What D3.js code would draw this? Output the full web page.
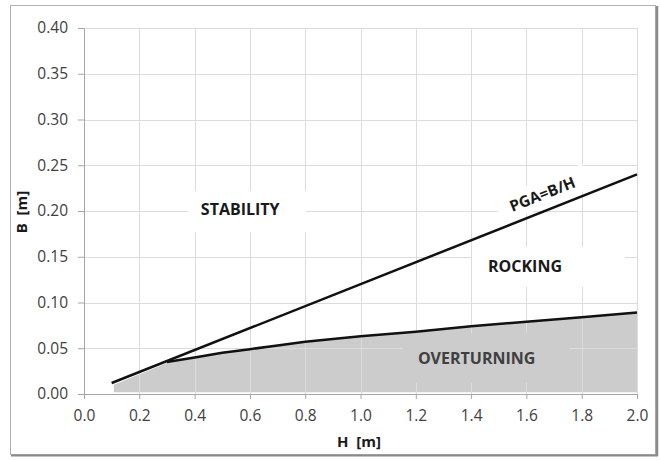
<!DOCTYPE html>
<html>
<head>
<meta charset="utf-8">
<script src="https://cdn.jsdelivr.net/npm/d3@7"></script>
<style>
  body { margin: 0; background: #fff; }
  svg { display: block; }
</style>
</head>
<body>
<div id="chart"></div>
<script>
// boundary PGA = B/H
const pgaH = [0.1, 2.0];
const pgaB = [0.012, 0.24];

// overturning limit curve
const overH = [0.3, 0.4, 0.5, 0.6, 0.7, 0.8, 0.9, 1.0, 1.2, 1.4, 1.6, 1.8, 2.0];
const overB = [0.035, 0.040, 0.045, 0.049, 0.053, 0.057, 0.060, 0.063, 0.068, 0.074, 0.079, 0.084, 0.089];

// shaded region (left part follows PGA line, then the curve)
const fillH = [0.108, 0.3];
const fillB = [0.010, 0.034];
const fillBase = 0.002;

const xTicks = [0, 0.2, 0.4, 0.6, 0.8, 1.0, 1.2, 1.4, 1.6, 1.8, 2.0];
const yTicks = [0, 0.05, 0.10, 0.15, 0.20, 0.25, 0.30, 0.35, 0.40];

const regionNames = ["STABILITY", "ROCKING", "OVERTURNING"];
const regionH = [0.565, 1.595, 1.42];
const regionB = [0.202, 0.14, 0.039];

const W = 660, H = 461;
const x = d3.scaleLinear().domain([0, 2]).range([84, 637]);
const y = d3.scaleLinear().domain([0, 0.4]).range([394, 28]);

// label boxes hiding the grid: [dx, dy, w, h] relative to text centre, fill
const boxes = [
  {box: [-52, -18, 118, 41], bg: "#fff", color: "#1a1a1a"},
  {box: [-53, -19, 153, 40], bg: "#fff", color: "#1a1a1a"},
  {box: [-74, -25, 167, 49], bg: "#cccccc", color: "#404040"}
];

const svg = d3.select("#chart").append("svg")
  .attr("width", W).attr("height", H)
  .style("font-family", "'Open Sans', sans-serif");

// frame
svg.append("rect").attr("x", 10.5).attr("y", 5.5).attr("width", 645).attr("height", 449)
  .attr("fill", "#fff").attr("stroke", "#b0b0b0");
svg.append("line").attr("x1", 657).attr("x2", 657).attr("y1", 6).attr("y2", 456)
  .attr("stroke", "#8a8a8a").attr("stroke-width", 2.5);
svg.append("line").attr("x1", 11).attr("x2", 658).attr("y1", 455.5).attr("y2", 455.5)
  .attr("stroke", "#8a8a8a").attr("stroke-width", 2);

// shaded area
const area = [];
fillH.forEach((h, i) => area.push([h, fillB[i]]));
overH.forEach((h, i) => area.push([h, overB[i]]));
area.push([overH[overH.length - 1], fillBase]);
area.push([fillH[0], fillBase]);
svg.append("path")
  .attr("d", d3.line().x(d => x(d[0])).y(d => y(d[1]))(area) + "Z")
  .attr("fill", "#cccccc");

// grid
svg.append("g").selectAll("line").data(yTicks.slice(1)).join("line")
  .attr("x1", x(0)).attr("x2", x(2))
  .attr("y1", d => Math.round(y(d)) + 0.5).attr("y2", d => Math.round(y(d)) + 0.5)
  .attr("stroke", "#dcdcdc");
svg.append("g").selectAll("line").data(xTicks.slice(1)).join("line")
  .attr("y1", y(0)).attr("y2", y(0.4))
  .attr("x1", d => Math.round(x(d)) + 0.5).attr("x2", d => Math.round(x(d)) + 0.5)
  .attr("stroke", "#dcdcdc");

// label boxes
regionNames.forEach((n, i) => {
  const b = boxes[i].box;
  svg.append("rect")
    .attr("x", x(regionH[i]) + b[0]).attr("y", y(regionB[i]) + b[1])
    .attr("width", b[2]).attr("height", b[3])
    .attr("fill", boxes[i].bg);
});

// rotated label above the PGA line
const ang = Math.atan2(y(pgaB[0]) - y(pgaB[1]), x(pgaH[1]) - x(pgaH[0])) * 180 / Math.PI;
const hLab = 1.68;
const bLab = pgaB[0] + (pgaB[1] - pgaB[0]) * (hLab - pgaH[0]) / (pgaH[1] - pgaH[0]);
const pg = svg.append("g")
  .attr("transform", `translate(${x(hLab)},${y(bLab)}) rotate(${-ang}) translate(0,-17)`);
pg.append("rect").attr("x", -48).attr("y", -13).attr("width", 96).attr("height", 26).attr("fill", "#fff");
pg.append("text").attr("text-anchor", "middle").attr("y", 6)
  .attr("font-size", 15.5).attr("font-weight", "bold").attr("fill", "#1a1a1a")
  .text("PGA=B/H");

// axes
const yAxis = svg.append("g").attr("transform", `translate(${x(0)},0)`)
  .call(d3.axisLeft(y).tickValues(yTicks).tickFormat(d3.format(".2f")).tickSize(6).tickPadding(10));
const xAxis = svg.append("g").attr("transform", `translate(0,${y(0)})`)
  .call(d3.axisBottom(x).tickValues(xTicks).tickFormat(d3.format(".1f")).tickSize(5).tickPadding(11));
[yAxis, xAxis].forEach(a => {
  a.select(".domain").attr("stroke", "#a6a6a6");
  a.selectAll(".tick line").attr("stroke", "#a6a6a6");
  a.selectAll("text").attr("font-size", 15.5).attr("fill", "#404040")
    .style("font-family", "'Open Sans', sans-serif");
});

// lines
const line = d3.line().x(d => x(d[0])).y(d => y(d[1]));
svg.append("path").datum(pgaH.map((h, i) => [h, pgaB[i]]))
  .attr("d", line).attr("fill", "none").attr("stroke", "#111").attr("stroke-width", 2.5);
svg.append("path").datum(overH.map((h, i) => [h, overB[i]]))
  .attr("d", line).attr("fill", "none").attr("stroke", "#111").attr("stroke-width", 2.5);

// region labels
regionNames.forEach((n, i) => {
  svg.append("text").attr("x", x(regionH[i])).attr("y", y(regionB[i]) + 6)
    .attr("text-anchor", "middle").attr("font-size", 16).attr("font-weight", "bold")
    .attr("fill", boxes[i].color).text(n);
});

// axis titles
svg.append("text").attr("x", 359).attr("y", 447).attr("text-anchor", "middle")
  .attr("font-size", 15).attr("font-weight", "bold").attr("fill", "#1a1a1a")
  .attr("xml:space", "preserve").text("H  [m]");
svg.append("text").attr("transform", "translate(27,212) rotate(-90)").attr("text-anchor", "middle")
  .attr("font-size", 15).attr("font-weight", "bold").attr("fill", "#1a1a1a")
  .attr("xml:space", "preserve").text("B  [m]");
</script>
</body>
</html>
